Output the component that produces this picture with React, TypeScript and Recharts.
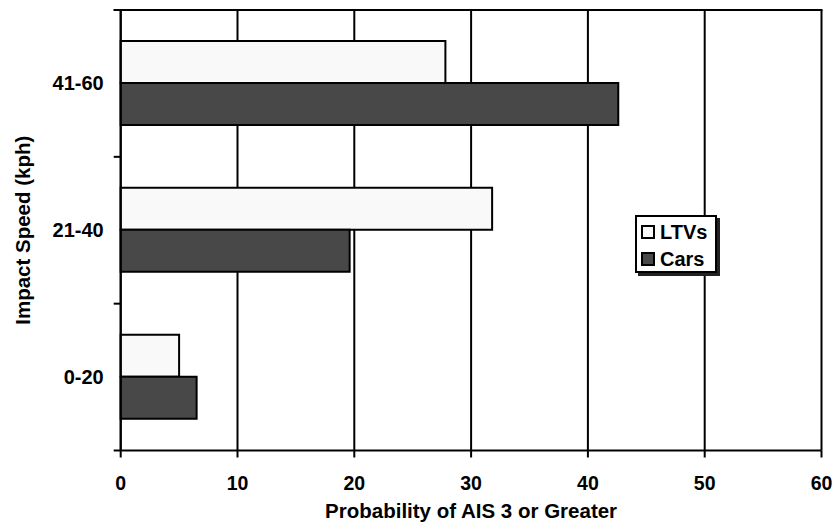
import React from 'react';
import * as R from 'recharts';
import { BarChart, Bar, XAxis, YAxis, CartesianGrid, Legend, Label } from 'recharts';

const categories = ['41-60', '21-40', '0-20'];
const ltvs = [27.8, 31.8, 5.0];
const cars = [42.6, 19.6, 6.5];
const xTicks = [0, 10, 20, 30, 40, 50, 60];
const seriesNames = ['LTVs', 'Cars'];

const W = 835;
const H = 526;
const MARGIN = { top: 10, right: 13.5, bottom: 0, left: 0 };
const X_AXIS_H = 75.5;
const Y_AXIS_W = 120.7;
const FONT = '"Liberation Sans", Arial, Helvetica, sans-serif';
const LTV_FILL = '#f9f9f9';
const CAR_FILL = '#484848';
const INK = '#000';

const data = categories.map((c, i) => ({ speed: c, LTVs: ltvs[i], Cars: cars[i] }));
const band = (H - MARGIN.top - MARGIN.bottom - X_AXIS_H) / categories.length;

const usePlot: any = (R as any).usePlotArea || (R as any).useOffset || (() => null);

const FrameTop = () => {
  const area = usePlot();
  if (!area) return null;
  const x = area.x ?? area.left;
  const y = area.y ?? area.top;
  const w = area.width ?? (W - area.left - area.right);
  return <line x1={x - 7} x2={x + w + 1} y1={y} y2={y} stroke={INK} strokeWidth={2} />;
};

const YTick = (props: any) => {
  const { x, y, payload, index } = props;
  const last = index === categories.length - 1;
  return (
    <g>
      <line x1={x - 7} x2={x} y1={y - band / 2} y2={y - band / 2} stroke={INK} strokeWidth={2} />
      {last && <line x1={x - 7} x2={x} y1={y + band / 2} y2={y + band / 2} stroke={INK} strokeWidth={2} />}
      <text x={x - 17} y={y} textAnchor="end" dominantBaseline="central" fontFamily={FONT} fontWeight="bold" fontSize={20} fill={INK}>
        {payload.value}
      </text>
    </g>
  );
};

const XTick = (props: any) => {
  const { x, y, payload } = props;
  return (
    <text x={x} y={y} dy="0.71em" textAnchor="middle" fontFamily={FONT} fontWeight="bold" fontSize={19.5} fill={INK}>
      {payload.value}
    </text>
  );
};

const LegendBox = () => {
  const fills = [LTV_FILL, CAR_FILL];
  return (
    <div
      style={{
        width: 78,
        height: 54,
        border: '2px solid #000',
        background: '#fff',
        boxShadow: '3px 3px 0 #222',
        boxSizing: 'content-box',
        fontFamily: FONT,
        fontWeight: 'bold',
        fontSize: 20,
        color: '#000',
      }}
    >
      {seriesNames.map((n, i) => (
        <div key={n} style={{ display: 'flex', alignItems: 'center', height: 27, paddingLeft: 4, marginTop: i === 0 ? 1 : 0 }}>
          <div style={{ width: 10, height: 10, border: '2px solid #000', background: fills[i], marginRight: 5 }} />
          <span style={{ lineHeight: '20px' }}>{n}</span>
        </div>
      ))}
    </div>
  );
};

export default function App() {
  return (
    <div style={{ position: 'absolute', left: 0, top: 0, width: W, height: H, overflow: 'hidden' }}>
      <BarChart
        width={W}
        height={H}
        data={data}
        layout="vertical"
        margin={MARGIN}
        barSize={42}
        barGap={0}
      >
        <CartesianGrid horizontal={false} vertical stroke={INK} strokeWidth={2} />
        <XAxis
          type="number"
          domain={[0, 60]}
          ticks={xTicks}
          height={X_AXIS_H}
          axisLine={{ stroke: INK, strokeWidth: 2 }}
          tickLine={{ stroke: INK, strokeWidth: 2 }}
          tickSize={7}
          tickMargin={19}
          tick={<XTick />}
          interval={0}
        >
          <Label
            content={(p: any) => {
              const vb = p.viewBox;
              return (
                <text x={vb.x + vb.width / 2} y={H - 8} textAnchor="middle" fontFamily={FONT} fontWeight="bold" fontSize={20.5} fill={INK}>
                  Probability of AIS 3 or Greater
                </text>
              );
            }}
          />
        </XAxis>
        <YAxis
          type="category"
          dataKey="speed"
          width={Y_AXIS_W}
          axisLine={{ stroke: INK, strokeWidth: 2 }}
          tickLine={false}
          tickSize={0}
          tickMargin={0}
          tick={<YTick />}
          interval={0}
        >
          <Label
            content={(p: any) => {
              const vb = p.viewBox;
              const cx = 22.5;
              const cy = vb.y + vb.height / 2;
              return (
                <text x={cx} y={cy} transform={`rotate(-90 ${cx} ${cy})`} textAnchor="middle" dominantBaseline="central" fontFamily={FONT} fontWeight="bold" fontSize={20.5} fill={INK}>
                  Impact Speed (kph)
                </text>
              );
            }}
          />
        </YAxis>
        <Legend
          layout="vertical"
          align="center"
          verticalAlign="middle"
          content={<LegendBox />}
          wrapperStyle={{ position: 'absolute', left: 635, top: 215, width: 90, height: 64 }}
        />
        <Bar dataKey="LTVs" fill={LTV_FILL} stroke={INK} strokeWidth={2} isAnimationActive={false} />
        <Bar dataKey="Cars" fill={CAR_FILL} stroke={INK} strokeWidth={2} isAnimationActive={false} />
        <FrameTop />
      </BarChart>
    </div>
  );
}
